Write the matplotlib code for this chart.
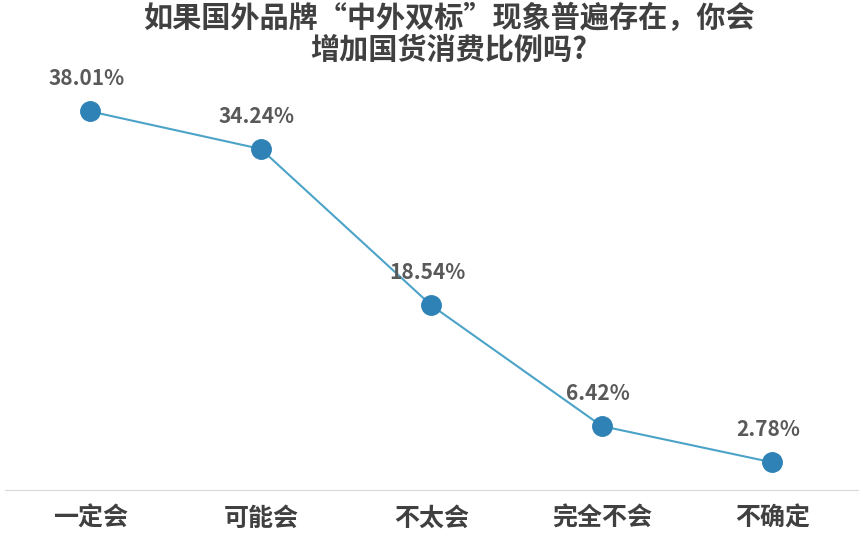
import matplotlib.pyplot as plt

plt.rcParams['font.family'] = ['Noto Sans CJK SC', 'DejaVu Sans']

categories = ['一定会', '可能会', '不太会', '完全不会', '不确定']
values = [38.01, 34.24, 18.54, 6.42, 2.78]
title = '如果国外品牌“中外双标”现象普遍存在，你会\n增加国货消费比例吗?'

fig = plt.figure(figsize=(8.63, 5.55), dpi=100)
ax = fig.add_axes([0.0058, 0.117, 0.988, 0.718])
x = range(len(categories))
ax.plot(x, values, color='#4BA3C8', lw=1.5, marker='o', markersize=14,
        markerfacecolor='#2E82B5', markeredgecolor='#2E82B5', zorder=3)
for i, v in zip(x, values):
    ax.annotate(f'{v:.2f}%', (i, v), xytext=(-3, 16), textcoords='offset points',
                ha='center', va='bottom', fontsize=15, fontweight='bold', color='#595959')
ax.set_xlim(-0.5, 4.5)
ax.set_ylim(0, 40)
ax.set_xticks(list(x))
ax.set_xticklabels(categories, fontsize=18, fontweight='bold', color='#404040')
ax.tick_params(axis='x', length=0, pad=12)
ax.set_yticks([])
for s in ['top', 'right', 'left']:
    ax.spines[s].set_visible(False)
ax.spines['bottom'].set_color('#D9D9D9')
fig.text(0.52, 0.995, title, ha='center', va='top', fontsize=21, fontweight='bold',
         color='#404040', linespacing=1.1)
fig.savefig('out.png', dpi=100)
